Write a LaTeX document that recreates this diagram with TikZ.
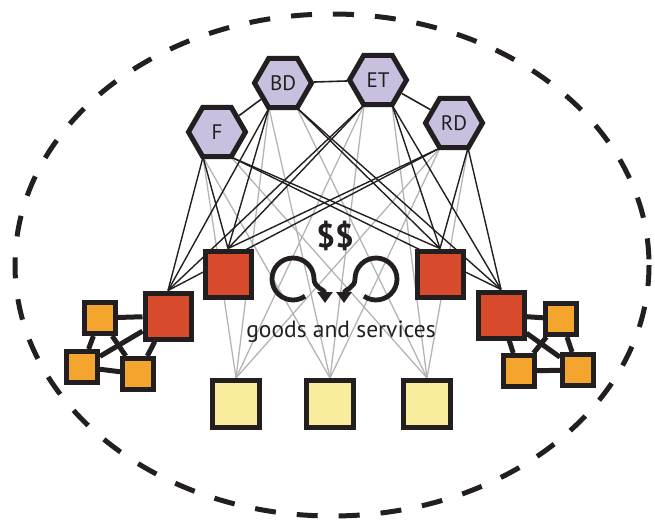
\documentclass[tikz,border=0pt]{standalone}
\usepackage{fontspec}
\setmainfont{PT Sans}
\usetikzlibrary{shapes.geometric,arrows.meta}
\pgfdeclarelayer{bgg}
\pgfdeclarelayer{bg}
\pgfsetlayers{bgg,bg,main}
\definecolor{hexfill}{RGB}{201,191,223}
\definecolor{redfill}{RGB}{215,74,44}
\definecolor{orfill}{RGB}{243,165,45}
\definecolor{yelfill}{RGB}{249,237,157}
\definecolor{ink}{RGB}{35,31,32}
\definecolor{lgray}{RGB}{180,180,180}
\begin{document}
\begin{tikzpicture}[x=1pt,y=-1pt,
  hexnode/.style={regular polygon, regular polygon sides=6, minimum size=57pt, inner sep=0pt,
    draw=ink, line width=5pt, fill=hexfill, text=ink, font=\fontsize{21}{21}\selectfont},
  redsq/.style={rectangle, minimum size=46pt, inner sep=0pt, draw=ink, line width=5pt, fill=redfill},
  yelsq/.style={rectangle, minimum size=47pt, inner sep=0pt, draw=ink, line width=5pt, fill=yelfill},
  orsq/.style={rectangle, minimum size=31pt, inner sep=0pt, draw=ink, line width=5pt, fill=orfill},
  blackline/.style={draw=ink, line width=1.4pt},
  grayline/.style={draw=lgray, line width=1.3pt},
  linkline/.style={draw=ink, line width=1.6pt},
  clusterline/.style={draw=ink, line width=5pt},
  cycle arrow/.style={draw=ink, line width=4.8pt, -{Triangle[width=15pt,length=11pt]}},
  boundary/.style={draw=ink, line width=5pt, dash pattern=on 21pt off 21pt}
]
\useasboundingbox (0,0) rectangle (655,522);

% dashed boundary
\draw[boundary] (332,265) ellipse [x radius=317, y radius=251];

% hexagons
\node[hexnode] (F)  at (217,132) {F};
\node[hexnode] (BD) at (283,83)  {BD};
\node[hexnode] (ET) at (378,80)  {ET};
\node[hexnode] (RD) at (454,123) {RD};
\foreach \h in {F,BD,ET,RD}{
  \coordinate (\h-l) at ([shift={(-14,25)}]\h.center);
  \coordinate (\h-r) at ([shift={(14,25)}]\h.center);
}

% red squares
\node[redsq] (R1) at (228,274) {};
\node[redsq] (R2) at (440,274) {};
\node[redsq] (R3) at (168,316) {};
\node[redsq] (R4) at (501,315) {};

% yellow squares
\node[yelsq] (Y1) at (236,404) {};
\node[yelsq] (Y2) at (330,404) {};
\node[yelsq] (Y3) at (427,404) {};

% orange squares
\node[orsq] (OL1) at (100,318) {};
\node[orsq] (OL2) at (82,367)  {};
\node[orsq] (OL3) at (138,374) {};
\node[orsq] (OR1) at (561,319) {};
\node[orsq] (OR2) at (519,371) {};
\node[orsq] (OR3) at (578,370) {};

% texts
\node[font=\fontsize{33}{33}\selectfont\bfseries, text=ink] (money) at (335,236) {\$\$};
\node[anchor=base, font=\fontsize{23.5}{23.5}\selectfont, text=ink] (gs) at (341,337) {goods and services};

% exchange arrows
\draw[cycle arrow] (293,279) ++(55:21) arc[start angle=55, end angle=360, radius=21]
   .. controls (314,288) and (325,290) .. (325,303);
\draw[cycle arrow] (376,279) ++(125:21) arc[start angle=125, end angle=-180, radius=21]
   .. controls (355,288) and (344,290) .. (344,303);

% connectors
\begin{pgfonlayer}{bgg}
  \foreach \h in {F,BD,ET,RD}{
    \foreach \t/\s in {Y1/l,Y2/l,Y3/r}{
      \draw[grayline] (\h-\s) -- (\t.north);
    }
  }
\end{pgfonlayer}
\begin{pgfonlayer}{bg}
  \foreach \h in {F,BD,ET,RD}{
    \foreach \t/\s in {R1/l,R3/l,R2/r,R4/r}{
      \draw[blackline] (\h-\s) -- (\t.north);
    }
  }
  \draw[linkline] (F) -- (BD);
  \draw[linkline] (BD) -- (ET);
  \draw[linkline] (ET) -- (RD);
  \draw[clusterline] (OL1) -- (R3);
  \draw[clusterline] (OL1) -- (OL2);
  \draw[clusterline] (OL1) -- (OL3);
  \draw[clusterline] (OL2) -- (R3);
  \draw[clusterline] (OL3) -- (R3);
  \draw[clusterline] (OL2) -- (OL3);
  \draw[clusterline] (OR1) -- (R4);
  \draw[clusterline] (OR2) -- (R4);
  \draw[clusterline] (OR3) -- (R4);
  \draw[clusterline] (OR1) -- (OR3);
  \draw[clusterline] (OR1) -- (OR2);
  \draw[clusterline] (OR2) -- (OR3);
\end{pgfonlayer}
\end{tikzpicture}
\end{document}
